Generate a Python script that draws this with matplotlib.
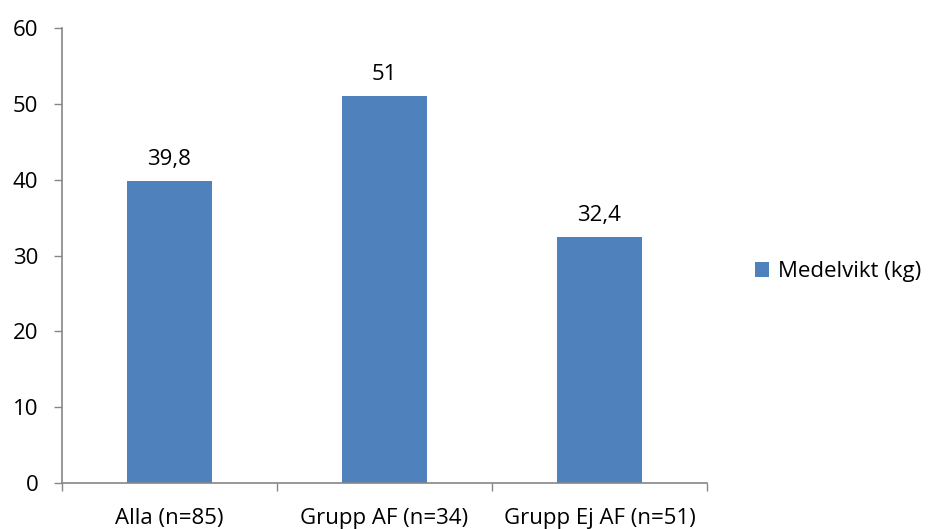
import matplotlib
matplotlib.use("Agg")
import matplotlib.pyplot as plt
from matplotlib.patches import Patch

categories = ["Alla (n=85)", "Grupp AF (n=34)", "Grupp Ej AF (n=51)"]
values = [39.8, 51, 32.4]
value_labels = ["39,8", "51", "32,4"]
series_name = "Medelvikt (kg)"
y_ticks = [0, 10, 20, 30, 40, 50, 60]

bar_color = "#4F81BD"
axis_color = "#868686"
fs = 16

plt.rcParams["font.family"] = ["Open Sans", "DejaVu Sans"]

fig = plt.figure(figsize=(9.29, 5.29), dpi=100)
ax = fig.add_axes([62 / 929, 1 - 483 / 529, 645 / 929, 455 / 529])

x = list(range(len(categories)))
bars = ax.bar(x, values, width=0.395, color=bar_color, zorder=2)

for xi, v, lab in zip(x, values, value_labels):
    ax.annotate(lab, (xi, v), xytext=(0, 8), textcoords="offset points",
                ha="center", va="bottom", fontsize=fs, color="black")

ax.set_xlim(-0.5, len(categories) - 0.5)
ax.set_ylim(0, 60)
ax.set_yticks(y_ticks)
ax.set_yticklabels([str(t) for t in y_ticks], fontsize=fs)

# Tick marks at category boundaries, labels centred under bars
ax.set_xticks([i - 0.5 for i in range(len(categories) + 1)])
ax.set_xticklabels([])
ax.set_xticks(x, minor=True)
ax.set_xticklabels(categories, minor=True, fontsize=fs)
ax.tick_params(axis="x", which="major", length=6, width=1, color=axis_color, direction="out")
ax.tick_params(axis="x", which="minor", length=0, pad=18)
ax.tick_params(axis="y", length=6, width=1, color=axis_color, direction="out", pad=11)

for side in ["top", "right"]:
    ax.spines[side].set_visible(False)
for side in ["left", "bottom"]:
    ax.spines[side].set_color(axis_color)
    ax.spines[side].set_linewidth(1.2)

handle = Patch(facecolor=bar_color, edgecolor="none")
fig.legend([handle], [series_name], loc="center left",
           bbox_to_anchor=(737 / 929, 1 - 272 / 529), frameon=False,
           fontsize=fs, handlelength=0.65, handleheight=0.65, handletextpad=0.4,
           borderpad=0.3)

fig.savefig("out.png", dpi=100, facecolor="white")
